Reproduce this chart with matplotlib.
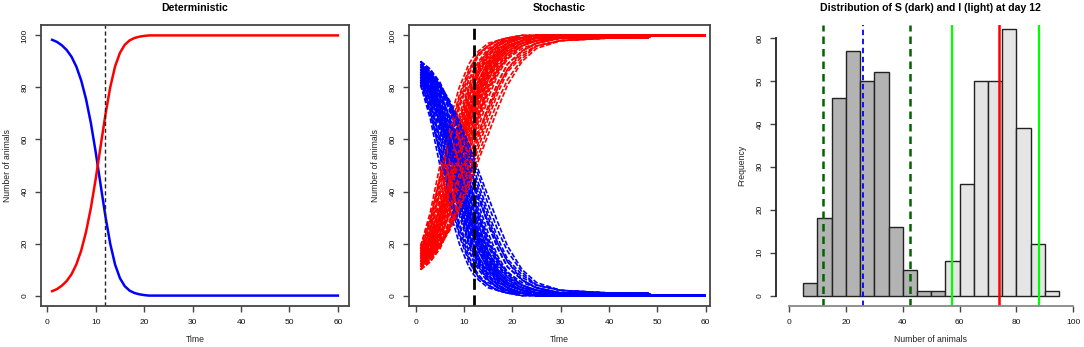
import numpy as np
import matplotlib.pyplot as plt

plt.rcParams['font.family'] = ['Liberation Sans', 'DejaVu Sans']

N = 100
day_mark = 12

# deterministic model: infected animals per day (days 1..60)
det_days = np.arange(1, 61)
det_I = [1.7, 2.5, 3.8, 5.6, 8.2, 12.0, 17.3, 24.5, 33.7, 44.9,
         57.3, 69.5, 80.1, 88.1, 93.3, 96.4, 98.1, 99.0, 99.5, 99.8] + [100.0] * 40

# stochastic runs: susceptible animals read at these days
run_days = [1, 3, 5, 7, 9, 11, 12, 13, 15, 17, 19, 22, 25, 30, 40, 48, 49, 60]
runs_S = [
    [81, 68, 50, 33, 20, 11, 8, 6, 3, 2, 1, 0, 0, 0, 0, 0, 0, 0],
    [83, 72, 56, 39, 24, 14, 10, 7, 4, 2, 1, 0, 0, 0, 0, 0, 0, 0],
    [84, 75, 60, 43, 28, 17, 13, 10, 5, 3, 1, 1, 0, 0, 0, 0, 0, 0],
    [86, 78, 64, 47, 31, 19, 15, 11, 6, 3, 2, 1, 0, 0, 0, 0, 0, 0],
    [82, 73, 61, 47, 33, 21, 17, 13, 7, 4, 2, 1, 0, 0, 0, 0, 0, 0],
    [88, 81, 69, 52, 35, 22, 17, 13, 7, 4, 2, 1, 0, 0, 0, 0, 0, 0],
    [85, 77, 66, 52, 37, 24, 19, 15, 9, 5, 3, 1, 0, 0, 0, 0, 0, 0],
    [89, 83, 72, 57, 40, 26, 20, 15, 8, 4, 2, 1, 0, 0, 0, 0, 0, 0],
    [87, 80, 70, 56, 41, 27, 22, 17, 10, 6, 3, 1, 1, 0, 0, 0, 0, 0],
    [84, 77, 67, 55, 42, 29, 24, 19, 11, 6, 3, 1, 0, 0, 0, 0, 0, 0],
    [90, 85, 76, 62, 45, 30, 24, 19, 11, 6, 3, 1, 1, 0, 0, 0, 0, 0],
    [86, 80, 71, 59, 45, 31, 26, 21, 13, 7, 4, 2, 1, 0, 0, 0, 0, 0],
    [88, 83, 74, 62, 47, 33, 27, 22, 13, 8, 4, 2, 1, 1, 0, 0, 0, 0],
    [83, 78, 70, 59, 47, 34, 28, 23, 15, 9, 5, 2, 1, 0, 0, 0, 0, 0],
    [89, 84, 77, 66, 51, 36, 29, 23, 14, 8, 4, 2, 1, 0, 0, 0, 0, 0],
    [87, 83, 76, 65, 52, 38, 31, 25, 16, 9, 5, 2, 1, 1, 1, 1, 0, 0],
    [90, 86, 79, 68, 54, 40, 33, 27, 17, 10, 6, 3, 1, 0, 0, 0, 0, 0],
    [85, 81, 74, 64, 53, 41, 35, 29, 19, 12, 7, 3, 1, 1, 0, 0, 0, 0],
    [88, 84, 78, 69, 57, 43, 36, 30, 19, 12, 7, 3, 2, 1, 0, 0, 0, 0],
    [86, 82, 76, 68, 58, 46, 39, 33, 22, 14, 8, 4, 2, 1, 0, 0, 0, 0],
    [90, 87, 81, 72, 61, 48, 42, 35, 24, 15, 9, 4, 2, 1, 0, 0, 0, 0],
    [87, 84, 79, 72, 63, 51, 45, 39, 28, 18, 11, 6, 3, 1, 1, 0, 0, 0],
    [89, 86, 81, 74, 65, 55, 49, 43, 32, 22, 14, 8, 4, 2, 1, 0, 0, 0],
    [84, 80, 74, 66, 57, 47, 42, 37, 28, 20, 13, 6, 3, 1, 0, 0, 0, 0],
    [82, 76, 67, 56, 44, 32, 27, 23, 15, 9, 5, 2, 1, 0, 0, 0, 0, 0],
    [85, 79, 69, 56, 42, 30, 25, 20, 12, 7, 4, 2, 1, 0, 0, 0, 0, 0],
    [87, 82, 73, 61, 48, 35, 30, 25, 17, 11, 7, 4, 2, 1, 1, 1, 0, 0],
    [81, 70, 55, 40, 27, 17, 14, 11, 6, 3, 2, 1, 0, 0, 0, 0, 0, 0],
    [90, 86, 80, 71, 59, 45, 38, 31, 20, 13, 9, 5, 3, 1, 0, 0, 0, 0],
    [88, 85, 80, 73, 64, 53, 47, 41, 30, 20, 13, 7, 4, 2, 1, 0, 0, 0],
    [82, 71, 54, 37, 23, 13, 10, 7, 4, 2, 1, 0, 0, 0, 0, 0, 0, 0],
    [85, 74, 58, 41, 26, 15, 11, 8, 4, 2, 1, 1, 0, 0, 0, 0, 0, 0],
    [87, 79, 66, 49, 33, 20, 16, 12, 6, 3, 1, 1, 0, 0, 0, 0, 0, 0],
    [83, 75, 63, 49, 35, 23, 18, 14, 8, 4, 2, 1, 0, 0, 0, 0, 0, 0],
    [89, 82, 71, 55, 38, 24, 19, 14, 8, 4, 2, 1, 0, 0, 0, 0, 0, 0],
    [86, 79, 69, 55, 40, 27, 22, 17, 10, 5, 3, 1, 0, 0, 0, 0, 0, 0],
    [90, 84, 74, 59, 43, 29, 23, 18, 10, 6, 3, 1, 1, 0, 0, 0, 0, 0],
    [84, 78, 69, 57, 44, 31, 26, 21, 12, 7, 4, 2, 1, 0, 0, 0, 0, 0],
    [88, 82, 73, 60, 46, 32, 26, 21, 12, 7, 4, 2, 1, 1, 1, 1, 0, 0],
    [85, 80, 72, 61, 48, 35, 29, 24, 15, 9, 5, 3, 1, 0, 0, 0, 0, 0],
    [89, 85, 78, 67, 53, 39, 33, 27, 17, 10, 6, 3, 2, 1, 0, 0, 0, 0],
    [86, 83, 77, 68, 56, 43, 37, 31, 21, 13, 8, 4, 2, 1, 0, 0, 0, 0],
    [90, 87, 82, 74, 63, 50, 44, 38, 27, 18, 11, 6, 3, 1, 1, 0, 0, 0],
    [88, 85, 81, 75, 67, 58, 53, 48, 38, 28, 19, 10, 5, 2, 1, 1, 0, 0],
    [87, 84, 80, 74, 66, 56, 51, 46, 35, 25, 17, 9, 4, 2, 1, 0, 0, 0],
]

# histograms at day 12
S_edges = [5, 10, 15, 20, 25, 30, 35, 40, 45, 50, 55]
S_counts = [3, 18, 46, 57, 50, 52, 16, 6, 1, 1]
I_edges = [55, 60, 65, 70, 75, 80, 85, 90, 95]
I_counts = [8, 26, 50, 50, 62, 39, 12, 1]
S_mean, S_lo, S_hi = 26, 12, 42.5
I_mean, I_lo, I_hi = 74, 57.5, 88

W, H = 1084, 347
fig = plt.figure(figsize=(W / 100, H / 100), dpi=100)


def add_ax(left, right, top=25, bottom=306):
    return fig.add_axes([left / W, (H - bottom) / H, (right - left) / W, (bottom - top) / H])


def r_style(ax):
    for s in ax.spines.values():
        s.set_color('#444444')
        s.set_linewidth(1.3)
    ax.tick_params(direction='out', length=4, width=1, color='#444444',
                   labelsize=6, pad=5, labelcolor='#111111')
    for lab in ax.get_yticklabels():
        lab.set_rotation(90)
        lab.set_va('center')
    ax.xaxis.label.set_va('center')
    ax.yaxis.label.set_va('center')


lab_kw = dict(fontsize=6.2, color='#222222')
title_kw = dict(fontsize=7.6, fontweight='bold', pad=10)

# --- deterministic
ax1 = add_ax(41, 349)
S_det = N - np.array(det_I)
ax1.plot(det_days, S_det, color='blue', lw=1.8)
ax1.plot(det_days, det_I, color='red', lw=1.8)
ax1.axvline(day_mark, color='#222222', lw=1, ls=(0, (3, 2)))
ax1.set_xlim(-1.3, 62.3)
ax1.set_ylim(-4, 104)
ax1.set_xticks(range(0, 61, 10))
ax1.set_yticks(range(0, 101, 20))
ax1.set_title('Deterministic', **title_kw)
ax1.set_xlabel('Time', **lab_kw)
ax1.set_ylabel('Number of animals', **lab_kw)
ax1.xaxis.set_label_coords(0.5, -34 / 281)
ax1.yaxis.set_label_coords(-34 / 308, 0.5)
r_style(ax1)

# --- stochastic
ax2 = add_ax(409, 710)
for s in runs_S:
    s = np.array(s)
    ax2.plot(run_days, s, color='blue', lw=1.2, ls=(0, (3, 1.2)))
    ax2.plot(run_days, N - s, color='red', lw=1.2, ls=(0, (3, 1.2)))
ax2.axvline(day_mark, color='black', lw=2, ls=(0, (4, 2)))
ax2.set_xlim(-1.4, 60.9)
ax2.set_ylim(-4, 104)
ax2.set_xticks(range(0, 61, 10))
ax2.set_yticks(range(0, 101, 20))
ax2.set_title('Stochastic', **title_kw)
ax2.set_xlabel('Time', **lab_kw)
ax2.set_ylabel('Number of animals', **lab_kw)
ax2.xaxis.set_label_coords(0.5, -34 / 281)
ax2.yaxis.set_label_coords(-34 / 301, 0.5)
r_style(ax2)

# --- distribution at day 12
ax3 = add_ax(776, 1084)
ax3.bar(S_edges[:-1], S_counts, width=np.diff(S_edges), align='edge',
        color='#b3b3b3', edgecolor='#222222', lw=1)
ax3.bar(I_edges[:-1], I_counts, width=np.diff(I_edges), align='edge',
        color='#e5e5e5', edgecolor='#222222', lw=1)
for x in (S_lo, S_hi):
    ax3.axvline(x, color='#006400', lw=1.8, ls=(0, (3, 2)))
ax3.axvline(S_mean, color='blue', lw=1.3, ls=(0, (3, 2)))
for x in (I_lo, I_hi):
    ax3.axvline(x, color='#00ff00', lw=1.6)
ax3.axvline(I_mean, color='red', lw=1.8)
ax3.set_xlim(-4.6, 103.8)
ax3.set_ylim(-2.4, 63)
ax3.set_xticks(range(0, 101, 20))
ax3.set_yticks(range(0, 61, 10))
ax3.spines['top'].set_visible(False)
ax3.spines['right'].set_visible(False)
ax3.spines['left'].set_bounds(0, 60)
ax3.spines['bottom'].set_bounds(0, 100)
ax3.set_title('Distribution of S (dark) and I (light) at day 12', **title_kw)
ax3.set_xlabel('Number of animals', **lab_kw)
ax3.set_ylabel('Frequency', **lab_kw)
ax3.xaxis.set_label_coords((930 - 776) / 308, -34 / 281)
ax3.yaxis.set_label_coords(-34 / 308, 0.5)
r_style(ax3)
ax3.spines['left'].set_color('#222222')
ax3.spines['bottom'].set_color('#888888')

fig.savefig('out.png', dpi=100)
